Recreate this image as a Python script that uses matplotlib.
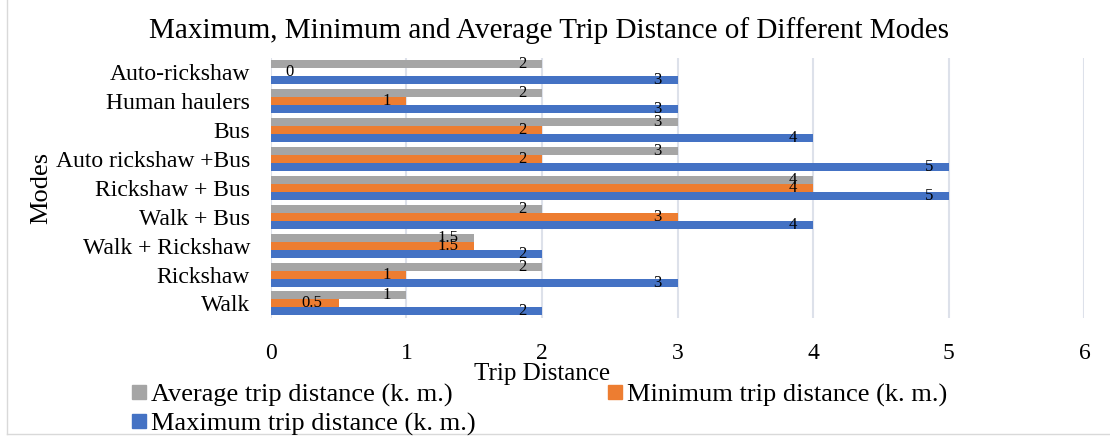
import matplotlib.pyplot as plt
import numpy as np
from matplotlib.lines import Line2D
from matplotlib.transforms import offset_copy

plt.rcParams['font.family'] = ['Liberation Serif', 'DejaVu Serif']

modes = ["Walk", "Rickshaw", "Walk + Rickshaw", "Walk + Bus", "Rickshaw + Bus",
         "Auto rickshaw +Bus", "Bus", "Human haulers", "Auto-rickshaw"]
average = [1, 2, 1.5, 2, 4, 3, 3, 2, 2]
minimum = [0.5, 1, 1.5, 3, 4, 2, 2, 1, 0]
maximum = [2, 3, 2, 4, 5, 5, 4, 3, 3]
series_names = ["Average trip distance (k. m.)", "Minimum trip distance (k. m.)",
                "Maximum trip distance (k. m.)"]
colors = ["#A5A5A5", "#ED7D31", "#4472C4"]

fig = plt.figure(figsize=(11.1, 4.36), dpi=100)
ax = fig.add_axes([0.244, 0.271, 0.733, 0.596])

y = np.arange(len(modes))
h = 0.277
offsets = [h, 0, -h]
for vals, off, col, name in zip([average, minimum, maximum], offsets, colors, series_names):
    ax.barh(y + off, vals, height=h, color=col, label=name, zorder=3)
    for yy, v in zip(y + off, vals):
        if v == 0:
            tr = offset_copy(ax.transData, fig=fig, x=15, y=0, units='dots')
            ax.text(v, yy, "0", transform=tr, ha='left', va='center', fontsize=12, zorder=4)
        else:
            tr = offset_copy(ax.transData, fig=fig, x=-16, y=0, units='dots')
            ax.text(v, yy, "{:g}".format(v), transform=tr, ha='right', va='center',
                    fontsize=12, zorder=4)

ax.set_xlim(0, 6)
ax.set_ylim(-0.5, len(modes) - 0.5)
ax.set_yticks(y)
ax.set_yticklabels(modes, fontsize=17)
ax.set_xticks(range(7))
ax.tick_params(axis='x', labelsize=17, length=0, pad=18)
ax.tick_params(axis='y', length=0, pad=15)
ax.grid(axis='x', color='#dde1ea', linewidth=1.5, zorder=0)
for s in ax.spines.values():
    s.set_visible(False)

fig.text(0.495, 0.93, "Maximum, Minimum and Average Trip Distance of Different Modes",
         ha='center', va='center', fontsize=21)
fig.text(0.488, 0.143, "Trip Distance", ha='center', va='center', fontsize=18)
fig.text(0.037, 0.57, "Modes", ha='center', va='center', rotation=90, fontsize=19)

handles = [Line2D([], [], marker='s', linestyle='none', markersize=10, color=c) for c in colors]
order = [0, 2, 1]
fig.legend([handles[i] for i in order], [series_names[i] for i in order],
           ncol=2, loc='upper left', bbox_to_anchor=(0.106, 0.152), frameon=False,
           fontsize=19, handletextpad=0.15, columnspacing=5.0, labelspacing=0.2,
           borderpad=0, handlelength=0.6)

fig.add_artist(Line2D([0.0065, 0.0065], [0.005, 1.0], color='#d9d9d9', linewidth=1))
fig.add_artist(Line2D([0.0065, 1.0], [0.005, 0.005], color='#d9d9d9', linewidth=1))

fig.savefig("out.png", dpi=100)
